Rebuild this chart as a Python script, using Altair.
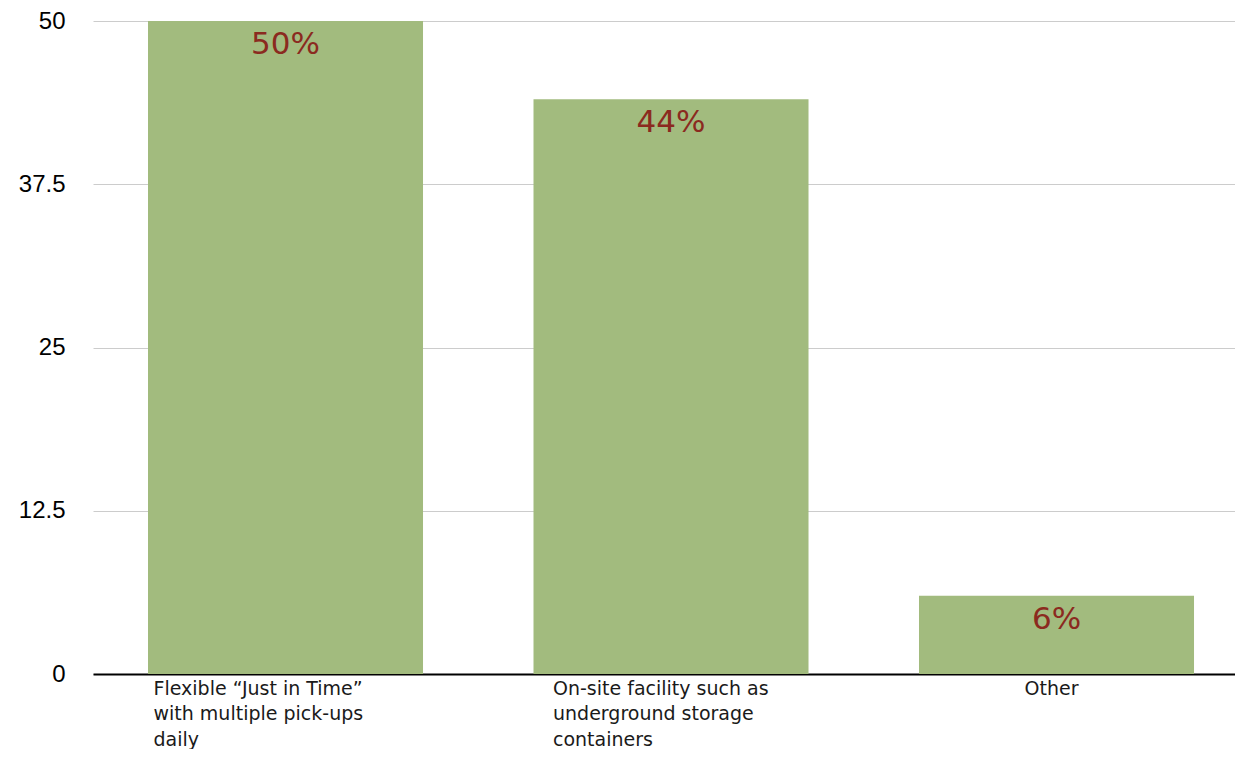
import altair as alt
import pandas as pd

categories = [
    "Flexible “Just in Time”|with multiple pick-ups|daily",
    "On-site facility such as|underground storage|containers",
    "Other",
]
values = [50, 44, 6]
value_labels = ["50%", "44%", "6%"]
y_ticks = [0, 12.5, 25, 37.5, 50]

df = pd.DataFrame({"cat": categories, "val": values, "lab": value_labels})

x_axis = alt.Axis(
    labelAngle=0,
    labelExpr="split(datum.label, '|')",
    labelFont="DejaVu Sans",
    labelFontSize=19,
    labelColor="#1a1a1a",
    labelLineHeight=25.5,
    labelBaseline="top",
    labelPadding=5,
    labelLimit=600,
    ticks=False,
    domainColor="black",
    domainWidth=2,
    grid=False,
    labelAlign={"condition": {"test": "datum.value == 'Other'", "value": "center"}, "value": "left"},
    labelOffset={
        "condition": [
            {"test": "datum.value == 'Other'", "value": -5},
            {"test": "indexof(datum.value, 'On-site') == 0", "value": -118},
        ],
        "value": -132,
    },
)

x_scale = alt.Scale(paddingInner=0.2866, paddingOuter=0.1245, align=0.573)

x = alt.X("cat:N", sort=categories, title=None, scale=x_scale, axis=x_axis)

y = alt.Y(
    "val:Q",
    title=None,
    scale=alt.Scale(domain=[0, 50], nice=False),
    axis=alt.Axis(
        values=y_ticks,
        labelExpr="datum.value",
        labelFont="Liberation Sans",
        labelFontSize=24,
        labelColor="black",
        labelPadding=28,
        domain=False,
        ticks=False,
        grid=True,
        gridColor="#cccccc",
        gridWidth=1,
    ),
)

base = alt.Chart(df)
bars = base.mark_bar(color="#a2bb7e").encode(x=x, y=y)
text = base.mark_text(
    font="DejaVu Sans", fontSize=31, color="#8b2a1f", baseline="middle", align="center", dy=24
).encode(x=alt.X("cat:N", sort=categories, scale=x_scale), y=alt.Y("val:Q"), text="lab:N")

chart = (
    alt.layer(bars, text)
    .properties(
        width=1142,
        height=653,
        autosize=alt.AutoSizeParams(type="none"),
        padding={"left": 85, "top": 13, "right": 0, "bottom": 75},
    )
    .configure_view(stroke=None)
)

chart.save("out.html", embed_options={"renderer": "svg", "actions": False})
